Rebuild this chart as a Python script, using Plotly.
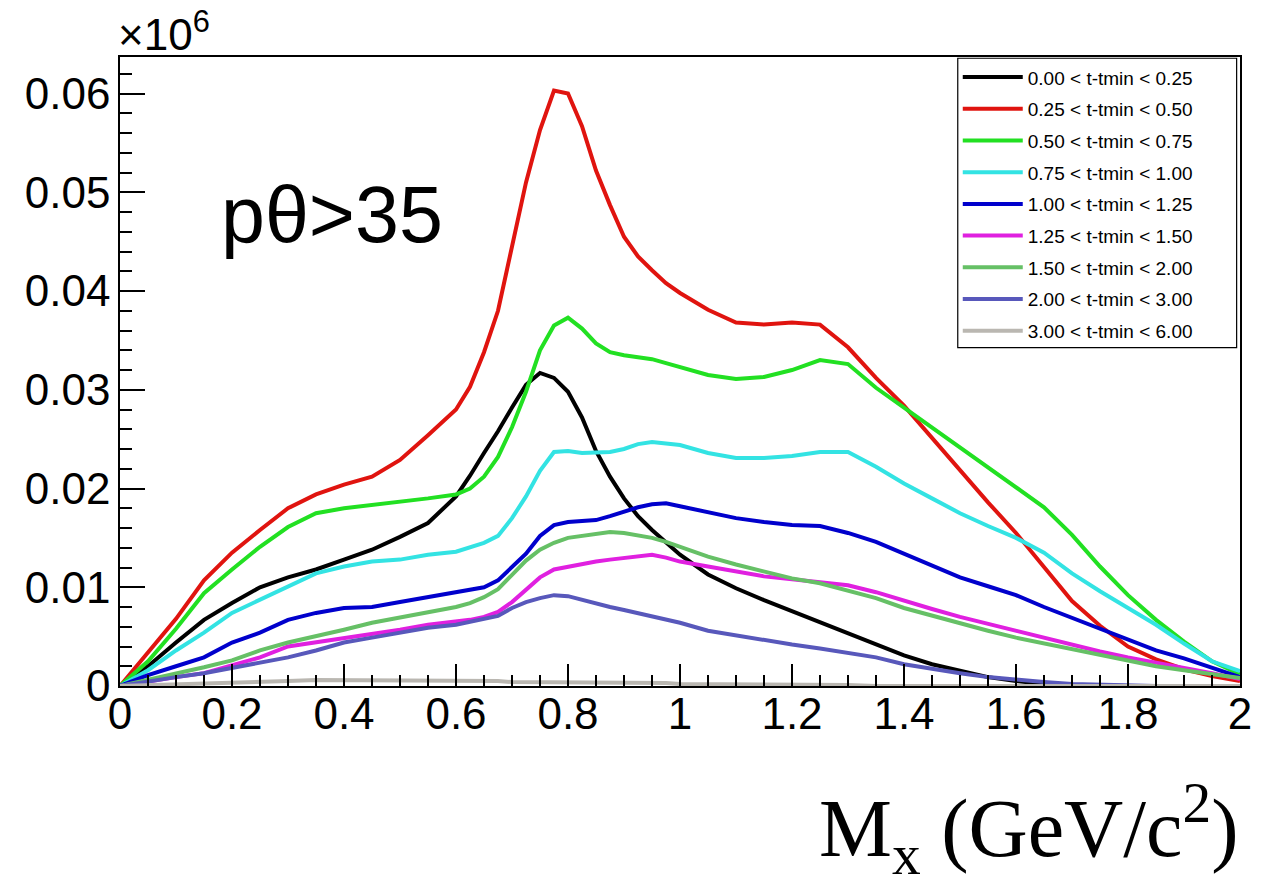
import plotly.graph_objects as go

MX = [0.0, 0.05, 0.10, 0.15, 0.20, 0.25, 0.30, 0.35, 0.40, 0.45, 0.50, 0.55, 0.60,
      0.625, 0.65, 0.675, 0.70, 0.725, 0.75, 0.775, 0.80, 0.825, 0.85, 0.875, 0.90, 0.925, 0.95, 0.975, 1.00,
      1.05, 1.10, 1.15, 1.20, 1.25, 1.30, 1.35, 1.40, 1.45, 1.50, 1.55, 1.60, 1.65, 1.70, 1.75, 1.80, 1.85, 1.90, 1.95, 2.00]

LABELS = ["0.00 < t-tmin < 0.25", "0.25 < t-tmin < 0.50", "0.50 < t-tmin < 0.75",
          "0.75 < t-tmin < 1.00", "1.00 < t-tmin < 1.25", "1.25 < t-tmin < 1.50",
          "1.50 < t-tmin < 2.00", "2.00 < t-tmin < 3.00", "3.00 < t-tmin < 6.00"]

COLORS = ["#000000", "#e0140f", "#22e022", "#33e3e3", "#0000cc", "#e020e0",
          "#66c066", "#5858bb", "#bab7b1"]

t000_025 = [0, 0.0020, 0.0044, 0.0067, 0.0084, 0.0100, 0.0110, 0.0118, 0.0128, 0.0138, 0.0151, 0.0165, 0.0192,
            0.0213, 0.0236, 0.0258, 0.0282, 0.0305, 0.0317, 0.0312, 0.0298, 0.0272, 0.0238, 0.0212, 0.0190, 0.0172, 0.0158, 0.0145, 0.0133,
            0.0113, 0.0099, 0.0087, 0.0076, 0.0065, 0.0054, 0.0042, 0.0031, 0.0022, 0.0015, 0.0009, 0.0005, 0.0002, 0.0001, 0, 0, 0, 0, 0, 0]
t025_050 = [0, 0.0034, 0.0068, 0.0107, 0.0135, 0.0158, 0.0180, 0.0194, 0.0204, 0.0212, 0.0229, 0.0254, 0.0280,
            0.0303, 0.0338, 0.0380, 0.0444, 0.0510, 0.0563, 0.0603, 0.0600, 0.0567, 0.0522, 0.0487, 0.0455, 0.0435, 0.0421, 0.0408, 0.0398,
            0.0381, 0.0368, 0.0366, 0.0368, 0.0366, 0.0343, 0.0312, 0.0284, 0.0251, 0.0219, 0.0186, 0.0155, 0.0121, 0.0086, 0.0061, 0.0040, 0.0027, 0.0017, 0.0010, 0.0005]
t050_075 = [0, 0.0025, 0.0058, 0.0094, 0.0118, 0.0141, 0.0161, 0.0175, 0.0180, 0.0183, 0.0187, 0.0190, 0.0194,
            0.0200, 0.0212, 0.0232, 0.0262, 0.0298, 0.0340, 0.0365, 0.0373, 0.0362, 0.0347, 0.0338, 0.0335, 0.0333, 0.0331, 0.0327, 0.0323,
            0.0315, 0.0311, 0.0313, 0.0320, 0.0330, 0.0326, 0.0302, 0.0282, 0.0262, 0.0242, 0.0222, 0.0201, 0.0181, 0.0153, 0.0121, 0.0092, 0.0067, 0.0045, 0.0025, 0.0012]
t075_100 = [0, 0.0016, 0.0036, 0.0054, 0.0074, 0.0087, 0.0100, 0.0114, 0.0121, 0.0126, 0.0128, 0.0133, 0.0136,
            0.0140, 0.0145, 0.0152, 0.0170, 0.0192, 0.0218, 0.0237, 0.0238, 0.0236, 0.0236, 0.0237, 0.0240, 0.0245, 0.0247, 0.0246, 0.0244,
            0.0236, 0.0231, 0.0231, 0.0233, 0.0237, 0.0237, 0.0222, 0.0205, 0.0190, 0.0175, 0.0162, 0.0150, 0.0135, 0.0114, 0.0096, 0.0079, 0.0062, 0.0043, 0.0025, 0.0015]
t100_125 = [0, 0.0011, 0.0020, 0.0029, 0.0044, 0.0054, 0.0067, 0.0074, 0.0079, 0.0080, 0.0085, 0.0090, 0.0094,
            0.0097, 0.0100, 0.0107, 0.0120, 0.0134, 0.0152, 0.0163, 0.0166, 0.0167, 0.0168, 0.0172, 0.0177, 0.0181, 0.0184, 0.0185, 0.0182,
            0.0176, 0.0170, 0.0166, 0.0163, 0.0162, 0.0155, 0.0146, 0.0134, 0.0122, 0.0110, 0.0101, 0.0092, 0.0080, 0.0069, 0.0058, 0.0046, 0.0036, 0.0028, 0.0018, 0.0009]
t125_150 = [0, 0.0005, 0.0009, 0.0013, 0.0021, 0.0029, 0.0040, 0.0044, 0.0049, 0.0052, 0.0057, 0.0062, 0.0065,
            0.0067, 0.0070, 0.0075, 0.0085, 0.0097, 0.0110, 0.0118, 0.0121, 0.0124, 0.0126, 0.0128, 0.0130, 0.0132, 0.0133, 0.0130, 0.0126,
            0.0121, 0.0116, 0.0111, 0.0108, 0.0105, 0.0102, 0.0095, 0.0086, 0.0078, 0.0070, 0.0063, 0.0055, 0.0048, 0.0042, 0.0035, 0.0029, 0.0024, 0.0019, 0.0013, 0.0007]
t150_200 = [0, 0.0006, 0.0012, 0.0019, 0.0026, 0.0036, 0.0044, 0.0050, 0.0057, 0.0064, 0.0069, 0.0074, 0.0080,
            0.0084, 0.0090, 0.0098, 0.0112, 0.0127, 0.0138, 0.0145, 0.0150, 0.0152, 0.0154, 0.0156, 0.0155, 0.0153, 0.0150, 0.0146, 0.0141,
            0.0131, 0.0123, 0.0116, 0.0109, 0.0104, 0.0097, 0.0089, 0.0079, 0.0071, 0.0064, 0.0056, 0.0049, 0.0043, 0.0038, 0.0031, 0.0026, 0.0020, 0.0016, 0.0012, 0.0008]
t200_300 = [0, 0.0005, 0.0009, 0.0013, 0.0018, 0.0023, 0.0029, 0.0036, 0.0044, 0.0049, 0.0054, 0.0059, 0.0062,
            0.0065, 0.0067, 0.0071, 0.0079, 0.0085, 0.0089, 0.0092, 0.0091, 0.0087, 0.0084, 0.0080, 0.0077, 0.0074, 0.0071, 0.0068, 0.0064,
            0.0056, 0.0051, 0.0047, 0.0042, 0.0038, 0.0033, 0.0029, 0.0022, 0.0017, 0.0013, 0.0009, 0.0006, 0.0004, 0.0002, 0.0001, 0, 0, 0, 0, 0]
t300_600 = [0, 0.0001, 0.0002, 0.0003, 0.0004, 0.0005, 0.0005, 0.0006, 0.0006, 0.0006, 0.0006, 0.0006, 0.0005,
            0.0005, 0.0005, 0.0005, 0.0004, 0.0004, 0.0004, 0.0004, 0.0004, 0.0004, 0.0003, 0.0003, 0.0003, 0.0003, 0.0003, 0.0003, 0.0002,
            0.0002, 0.0002, 0.0001, 0.0001, 0.0001, 0.0001, 0, 0, 0, 0, 0, 0, 0, 0, 0, 0, 0, 0, 0, 0]

SERIES = [t000_025, t025_050, t050_075, t075_100, t100_125, t125_150, t150_200, t200_300, t300_600]

fig = go.Figure()
for i, (lab, col, ys) in enumerate(zip(LABELS, COLORS, SERIES)):
    fig.add_trace(go.Scatter(x=MX, y=ys, mode="lines", name=lab, legendgroup=f"g{i}",
                             line=dict(color=col, width=4)))

# legend frame (ROOT-style TLegend box, wider than the entries)
LEG_X0, LEG_X1, LEG_Y0, LEG_Y1 = 0.748, 0.997, 0.538, 0.998

tickfont = dict(family="Liberation Sans, Arial, sans-serif", size=44, color="black")
fig.update_layout(
    width=1271, height=891,
    margin=dict(l=120, r=31, t=57, b=205),
    paper_bgcolor="white", plot_bgcolor="white",
    showlegend=True,
    legend=dict(x=LEG_X0, y=LEG_Y1, xanchor="left", yanchor="top",
                borderwidth=0, bgcolor="rgba(0,0,0,0)",
                font=dict(family="Liberation Sans, Arial, sans-serif", size=19, color="black"),
                tracegroupgap=4, itemwidth=60),
    shapes=[dict(type="rect", xref="paper", yref="paper", x0=LEG_X0, x1=LEG_X1, y0=LEG_Y0, y1=LEG_Y1,
                 line=dict(color="black", width=1.2), fillcolor="white", layer="below")],
    xaxis=dict(range=[0, 2], dtick=0.2, tick0=0, showgrid=False, zeroline=False,
               showline=True, linecolor="black", linewidth=1.5, mirror=True,
               ticks="inside", ticklen=22, tickwidth=1.5, tickcolor="black",
               minor=dict(dtick=0.05, ticks="inside", ticklen=11, tickwidth=1.5, tickcolor="black", showgrid=False),
               tickfont=tickfont, ticklabelstandoff=-12),
    yaxis=dict(range=[0, 0.0637], dtick=0.01, tick0=0, showgrid=False, zeroline=False,
               showline=True, linecolor="black", linewidth=1.5, mirror=True,
               ticks="inside", ticklen=25, tickwidth=1.5, tickcolor="black",
               minor=dict(dtick=0.002, ticks="inside", ticklen=12, tickwidth=1.5, tickcolor="black", showgrid=False),
               tickfont=tickfont, ticklabelstandoff=-1),
    annotations=[
        dict(text="×10<sup>6</sup>", xref="paper", yref="paper", x=0, y=1, xanchor="left", yanchor="bottom",
             showarrow=False, font=dict(family="Liberation Sans, Arial, sans-serif", size=44, color="black"),
             xshift=-4, yshift=-4),
        dict(text="pθ>35", xref="x", yref="y", x=0.176, y=0.0478, xanchor="left", yanchor="middle",
             showarrow=False, font=dict(family="Liberation Sans, Arial, sans-serif", size=79, color="black")),
        dict(text="M<sub>x</sub> (GeV/c<sup>2</sup>)", xref="paper", yref="paper", x=1.0, y=-0.226,
             xanchor="right", yanchor="middle", showarrow=False,
             font=dict(family="Liberation Serif, Times New Roman, serif", size=82, color="black")),
    ],
)

fig.write_html("out.html")
